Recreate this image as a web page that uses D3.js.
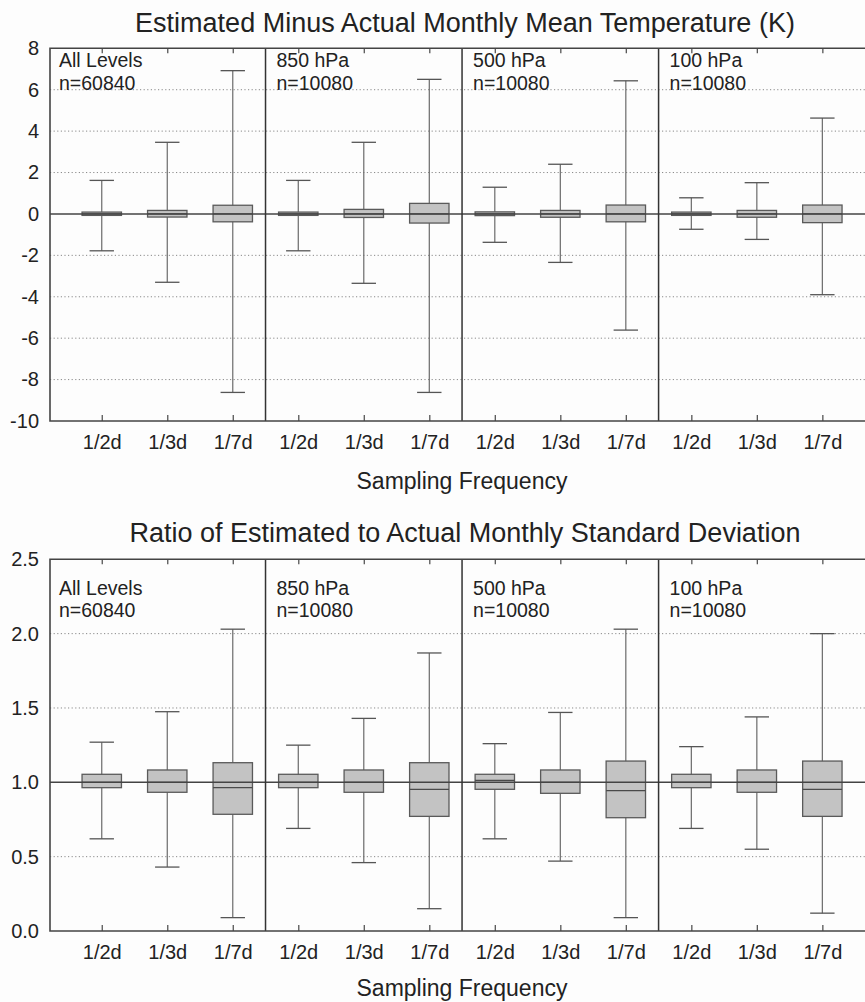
<!DOCTYPE html>
<html>
<head>
<meta charset="utf-8">
<script src="https://cdn.jsdelivr.net/npm/d3@7"></script>
<style>
  html, body { margin: 0; padding: 0; background: #fdfdfd; }
  svg { display: block; }
  text { font-family: "Liberation Sans", Arial, Helvetica, sans-serif; fill: #222; }
</style>
</head>
<body>
<script>
// Sampling frequencies repeated in each pressure-level panel
const categories = ["1/2d", "1/3d", "1/7d"];
const levels = ["All Levels", "850 hPa", "500 hPa", "100 hPa"];
const counts = ["n=60840", "n=10080", "n=10080", "n=10080"];

// Estimated minus actual monthly mean temperature (K), 12 boxes (4 levels x 3 frequencies)
const meanWhiskerLow  = [-1.78, -3.30, -8.62, -1.78, -3.35, -8.62, -1.37, -2.34, -5.61, -0.74, -1.23, -3.90];
const meanBoxLow      = [-0.07, -0.15, -0.38, -0.07, -0.17, -0.44, -0.08, -0.16, -0.38, -0.07, -0.16, -0.42];
const meanMedian      = [ 0.00,  0.00,  0.00,  0.00,  0.00,  0.00,  0.00,  0.00,  0.00,  0.00,  0.00,  0.00];
const meanBoxHigh     = [ 0.09,  0.17,  0.42,  0.09,  0.22,  0.51,  0.10,  0.17,  0.43,  0.09,  0.17,  0.43];
const meanWhiskerHigh = [ 1.62,  3.46,  6.92,  1.62,  3.46,  6.50,  1.29,  2.40,  6.43,  0.78,  1.51,  4.63];
const meanTicks = [8, 6, 4, 2, 0, -2, -4, -6, -8, -10];

// Ratio of estimated to actual monthly standard deviation
const sdWhiskerLow  = [0.62, 0.43, 0.09, 0.69, 0.46, 0.15, 0.62, 0.47, 0.09, 0.69, 0.55, 0.12];
const sdBoxLow      = [0.964, 0.933, 0.785, 0.964, 0.933, 0.771, 0.953, 0.926, 0.762, 0.964, 0.933, 0.771];
const sdMedian      = [1.00, 1.00, 0.964, 1.00, 1.00, 0.953, 1.013, 1.00, 0.944, 1.00, 1.00, 0.953];
const sdBoxHigh     = [1.054, 1.083, 1.132, 1.054, 1.083, 1.132, 1.054, 1.083, 1.143, 1.054, 1.083, 1.143];
const sdWhiskerHigh = [1.27, 1.475, 2.03, 1.25, 1.43, 1.87, 1.26, 1.47, 2.03, 1.24, 1.44, 2.00];
const sdTicks = [0.0, 0.5, 1.0, 1.5, 2.0, 2.5];

const W = 865, H = 1002;
const svg = d3.select("body").append("svg").attr("width", W).attr("height", H);

// Box index -> horizontal position (shared by both charts)
const x = d3.scaleLinear().domain([-0.79, 11.79]).range([50, 874.1]);

function buildRows(lo, q1, med, q3, hi) {
  return lo.map((v, i) => ({
    i,
    cat: categories[i % 3],
    lo: v, q1: q1[i], med: med[i], q3: q3[i], hi: hi[i]
  }));
}

function drawChart(opts) {
  const { title, titleY, y, ticks, fmt, refValue, rows, tickLabelY, axisLabelY, labelY1, labelY2 } = opts;
  const [yBottom, yTop] = y.range();
  const xLeft = x.range()[0], xRight = x.range()[1];
  const g = svg.append("g");

  // title
  g.append("text")
    .attr("x", 465).attr("y", titleY)
    .attr("text-anchor", "middle")
    .style("font-size", "27px")
    .text(title);

  // dotted grid lines
  g.append("g").selectAll("line")
    .data(ticks.filter(t => t !== refValue && y(t) > yTop + 1 && y(t) < yBottom - 1))
    .join("line")
    .attr("x1", xLeft).attr("x2", xRight)
    .attr("y1", d => y(d)).attr("y2", d => y(d))
    .attr("stroke", "#8a8a8a").attr("stroke-width", 1)
    .attr("stroke-dasharray", "1.2,2.4");

  // y tick labels
  const yAxis = d3.axisLeft(y).tickValues(ticks).tickSize(0).tickPadding(11).tickFormat(fmt);
  const ya = g.append("g").attr("transform", `translate(${xLeft},0)`).call(yAxis);
  ya.select(".domain").remove();
  ya.selectAll("text").style("font-size", "20px").attr("fill", "#222");

  // top and bottom category ticks
  const idx = d3.range(12);
  const xb = d3.axisBottom(x).tickValues(idx).tickSize(-6).tickFormat(i => categories[i % 3]).tickPadding(0);
  const xa = g.append("g").attr("transform", `translate(0,${yBottom})`).call(xb);
  xa.select(".domain").remove();
  xa.selectAll("line").attr("stroke", "#555").attr("stroke-width", 1.3);
  xa.selectAll("text")
    .style("font-size", "20px").attr("fill", "#222")
    .attr("y", tickLabelY - yBottom).attr("dy", 0);

  const xt = d3.axisTop(x).tickValues(idx).tickSize(-5).tickFormat("");
  const xta = g.append("g").attr("transform", `translate(0,${yTop})`).call(xt);
  xta.select(".domain").remove();
  xta.selectAll("line").attr("stroke", "#555").attr("stroke-width", 1.3);

  // whiskers
  const boxW = 39.4, capW = 24.4;
  const bx = g.append("g").selectAll("g").data(rows).join("g");
  bx.append("line")
    .attr("x1", d => x(d.i)).attr("x2", d => x(d.i))
    .attr("y1", d => y(d.hi)).attr("y2", d => y(d.lo))
    .attr("stroke", "#6a6a6a").attr("stroke-width", 1.2);
  bx.append("line")
    .attr("x1", d => x(d.i) - capW / 2).attr("x2", d => x(d.i) + capW / 2)
    .attr("y1", d => y(d.hi)).attr("y2", d => y(d.hi))
    .attr("stroke", "#555").attr("stroke-width", 1.3);
  bx.append("line")
    .attr("x1", d => x(d.i) - capW / 2).attr("x2", d => x(d.i) + capW / 2)
    .attr("y1", d => y(d.lo)).attr("y2", d => y(d.lo))
    .attr("stroke", "#555").attr("stroke-width", 1.3);
  // boxes
  bx.append("rect")
    .attr("x", d => x(d.i) - boxW / 2).attr("width", boxW)
    .attr("y", d => y(d.q3)).attr("height", d => y(d.q1) - y(d.q3))
    .attr("fill", "#c3c3c3").attr("stroke", "#5a5a5a").attr("stroke-width", 1.3);
  // medians
  bx.append("line")
    .attr("x1", d => x(d.i) - boxW / 2).attr("x2", d => x(d.i) + boxW / 2)
    .attr("y1", d => y(d.med)).attr("y2", d => y(d.med))
    .attr("stroke", "#4a4a4a").attr("stroke-width", 1.3);

  // reference line
  g.append("line")
    .attr("x1", xLeft).attr("x2", xRight)
    .attr("y1", y(refValue)).attr("y2", y(refValue))
    .attr("stroke", "#444").attr("stroke-width", 1.6);

  // panel dividers
  g.append("g").selectAll("line")
    .data([1, 2, 3])
    .join("line")
    .attr("x1", p => x(3 * p - 0.5)).attr("x2", p => x(3 * p - 0.5))
    .attr("y1", yTop).attr("y2", yBottom)
    .attr("stroke", "#333").attr("stroke-width", 1.5);

  // frame: left, top, bottom
  g.append("path")
    .attr("d", `M${xRight},${yTop}H${xLeft}V${yBottom}H${xRight}`)
    .attr("fill", "none").attr("stroke", "#444").attr("stroke-width", 1.6);

  // panel labels
  const lab = g.append("g").selectAll("g").data(levels).join("g")
    .attr("transform", (d, p) => `translate(${p === 0 ? 59 : x(3 * p - 0.5) + 11},0)`);
  lab.append("text").attr("y", labelY1).style("font-size", "19.5px").text(d => d);
  lab.append("text").attr("y", labelY2).style("font-size", "19.5px").text((d, p) => counts[p]);

  // axis label
  g.append("text")
    .attr("x", 462).attr("y", axisLabelY)
    .attr("text-anchor", "middle")
    .style("font-size", "23px")
    .text("Sampling Frequency");
}

drawChart({
  title: "Estimated Minus Actual Monthly Mean Temperature (K)",
  titleY: 32,
  y: d3.scaleLinear().domain([-10, 8]).range([421, 48.3]),
  ticks: meanTicks,
  fmt: d => String(d),
  refValue: 0,
  rows: buildRows(meanWhiskerLow, meanBoxLow, meanMedian, meanBoxHigh, meanWhiskerHigh),
  tickLabelY: 449,
  axisLabelY: 489,
  labelY1: 67,
  labelY2: 90
});

drawChart({
  title: "Ratio of Estimated to Actual Monthly Standard Deviation",
  titleY: 542,
  y: d3.scaleLinear().domain([0, 2.5]).range([931, 559.3]),
  ticks: sdTicks,
  fmt: d => d.toFixed(1),
  refValue: 1,
  rows: buildRows(sdWhiskerLow, sdBoxLow, sdMedian, sdBoxHigh, sdWhiskerHigh),
  tickLabelY: 959,
  axisLabelY: 996,
  labelY1: 595,
  labelY2: 617
});
</script>
</body>
</html>
